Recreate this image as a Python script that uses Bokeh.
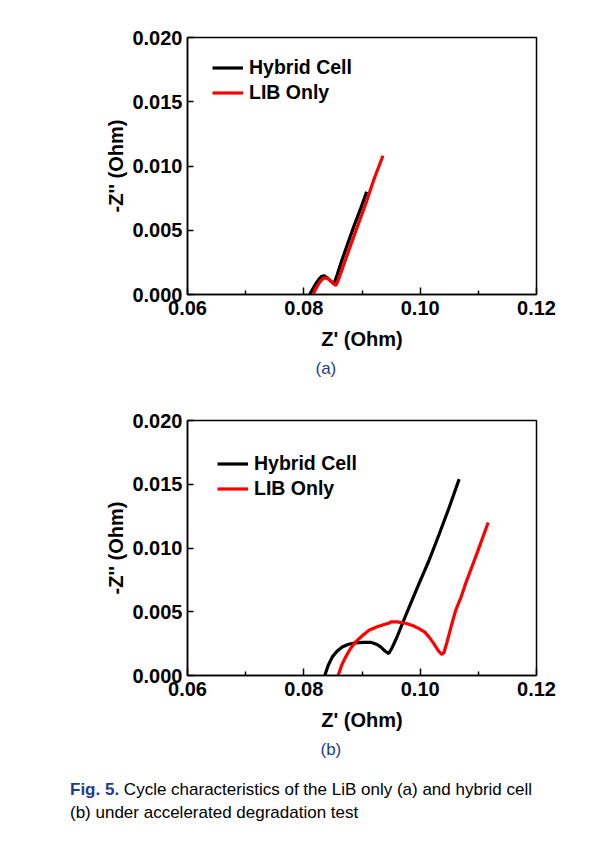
from bokeh.plotting import figure
from bokeh.models import (Legend, LegendItem, Title, NumeralTickFormatter,
                          FixedTicker, Range1d, Div)
from bokeh.layouts import column
from bokeh.embed import file_html
from bokeh.resources import INLINE

# ---------------- data ----------------
X_TICKS = [0.06, 0.08, 0.10, 0.12]
X_MINOR = [0.07, 0.09, 0.11]
Y_TICKS = [0.000, 0.005, 0.010, 0.015, 0.020]

# panel (a)
a_hybrid_x = [0.0810, 0.0815, 0.0820, 0.0826, 0.0831, 0.0835, 0.0840, 0.0845, 0.0849,
              0.0852, 0.0857, 0.0865, 0.0875, 0.0886, 0.0897, 0.0908]
a_hybrid_y = [0.0000, 0.0004, 0.0008, 0.0012, 0.00142, 0.00145, 0.0013, 0.0011, 0.00092,
              0.00085, 0.0015, 0.0026, 0.0039, 0.0053, 0.0066, 0.0080]
a_lib_x = [0.0816, 0.0820, 0.0825, 0.0830, 0.0835, 0.0840, 0.0845, 0.0850, 0.0855,
           0.0860, 0.0870, 0.0881, 0.0893, 0.0906, 0.0920, 0.0936]
a_lib_y = [0.0000, 0.0004, 0.0008, 0.0011, 0.0013, 0.00128, 0.0011, 0.0009, 0.0007,
           0.0012, 0.0025, 0.0039, 0.0054, 0.0070, 0.0089, 0.0108]

# panel (b)
b_hybrid_x = [0.0836, 0.0842, 0.0849, 0.0857, 0.0866, 0.0877, 0.0889, 0.0902, 0.0915,
              0.0925, 0.0932, 0.0940, 0.0946, 0.0952, 0.0960, 0.0975, 0.0998, 0.1015,
              0.1032, 0.1050, 0.1067]
b_hybrid_y = [0.0000, 0.0008, 0.00146, 0.0019, 0.00224, 0.00245, 0.00256, 0.0026, 0.0026,
              0.00245, 0.00224, 0.0019, 0.00172, 0.0022, 0.0030, 0.0047, 0.0072, 0.0090,
              0.0110, 0.0132, 0.0154]
b_lib_x = [0.0859, 0.0865, 0.0872, 0.0880, 0.0889, 0.0900, 0.0912, 0.0925, 0.0938,
           0.0946, 0.0950, 0.0960, 0.0975, 0.0988, 0.0998, 0.1008, 0.1015, 0.1022,
           0.1027, 0.1032, 0.1037, 0.1041, 0.1046, 0.1053, 0.1061, 0.1070, 0.1078,
           0.1097, 0.1117]
b_lib_y = [0.0000, 0.0008, 0.00146, 0.0021, 0.00264, 0.0031, 0.00355, 0.0038, 0.0040,
           0.0041, 0.0042, 0.0042, 0.0041, 0.0039, 0.00368, 0.0034, 0.00303, 0.0026,
           0.00224, 0.0019, 0.00165, 0.0018, 0.0026, 0.0038, 0.0051, 0.0061, 0.0072,
           0.0095, 0.0120]

SERIES = ["Hybrid Cell", "LIB Only"]
SERIES_COLORS = ["black", "red"]
X_LABEL = "Z' (Ohm)"
Y_LABEL = "-Z'' (Ohm)"
CAPTION_BOLD = "Fig. 5."
CAPTION_LINE1 = "Cycle characteristics of the LiB only (a) and hybrid cell"
CAPTION_LINE2 = "(b) under accelerated degradation test"

FONT = "Liberation Sans"
BLUE = "#1F3A93"


def make_panel(hx, hy, lx, ly, tag, min_left, min_top, fh, min_bottom, leg_loc, tag_offset):
    p = figure(frame_width=349, frame_height=fh,
               min_border_left=min_left, min_border_top=min_top,
               min_border_right=50, min_border_bottom=min_bottom,
               x_range=Range1d(X_TICKS[0], X_TICKS[-1]),
               y_range=Range1d(Y_TICKS[0], Y_TICKS[-1]),
               output_backend="svg", toolbar_location=None)
    p.xgrid.visible = False
    p.ygrid.visible = False
    p.outline_line_color = "black"
    p.outline_line_width = 1.5
    p.outline_line_alpha = 1.0

    r1 = p.line(hx, hy, color=SERIES_COLORS[0], line_width=3.2)
    r2 = p.line(lx, ly, color=SERIES_COLORS[1], line_width=3.2)

    for ax in (p.xaxis[0], p.yaxis[0]):
        ax.axis_line_width = 1.5
        ax.major_tick_line_width = 1.5
        ax.minor_tick_line_width = 1.5
        ax.major_tick_out = 0
        ax.minor_tick_out = 0
        ax.major_label_text_font = FONT
        ax.major_label_text_font_style = "bold"
        ax.major_label_text_font_size = "20px"
        ax.major_label_text_color = "black"
        ax.axis_label_text_font = FONT
        ax.axis_label_text_font_style = "bold"
        ax.axis_label_text_font_size = "20px"
        ax.axis_label_text_color = "black"

    xa = p.xaxis[0]
    xa.ticker = FixedTicker(ticks=X_TICKS, minor_ticks=X_MINOR)
    xa.formatter = NumeralTickFormatter(format="0.00")
    xa.major_tick_in = 7
    xa.minor_tick_in = 4
    xa.major_label_standoff = 6
    xa.axis_label = X_LABEL
    xa.axis_label_standoff = 10

    ya = p.yaxis[0]
    ya.ticker = FixedTicker(ticks=Y_TICKS)
    ya.formatter = NumeralTickFormatter(format="0.000")
    ya.major_tick_in = 6
    ya.minor_tick_line_color = None
    ya.major_label_standoff = 5
    ya.axis_label = Y_LABEL
    ya.axis_label_standoff = 2

    legend = Legend(items=[LegendItem(label=SERIES[0], renderers=[r1]),
                           LegendItem(label=SERIES[1], renderers=[r2])],
                    location=leg_loc, border_line_color=None,
                    background_fill_alpha=0, padding=0, margin=0, spacing=0,
                    glyph_width=31, glyph_height=25, label_height=25,
                    label_standoff=6, label_text_font=FONT,
                    label_text_color="black",
                    label_text_font_size="19.5px", label_text_font_style="bold")
    p.add_layout(legend)

    t = Title(text=tag, align="left", offset=tag_offset, text_color=BLUE,
              text_font=FONT, text_font_size="17px", text_font_style="normal",
              standoff=9)
    p.add_layout(t, "below")
    return p


pa = make_panel(a_hybrid_x, a_hybrid_y, a_lib_x, a_lib_y, "(a)",
                187, 37, 257, 96, (25, 189), 128)
pb = make_panel(b_hybrid_x, b_hybrid_y, b_lib_x, b_lib_y, "(b)",
                182, 30, 255, 98, (30, 174), 133)

cap = Div(text=('<div style="font-family:\'Liberation Sans\', Arial, sans-serif; font-size:17px; '
                'line-height:23px; color:#000; padding-left:65px; width:540px; white-space:nowrap;">'
                '<span style="color:%s; font-weight:bold;">%s</span> %s<br>%s</div>')
               % (BLUE, CAPTION_BOLD, CAPTION_LINE1, CAPTION_LINE2),
          width=590, height=56)

layout = column(pa, pb, cap, spacing=0)

open("out.html", "w").write(file_html(layout, INLINE))
